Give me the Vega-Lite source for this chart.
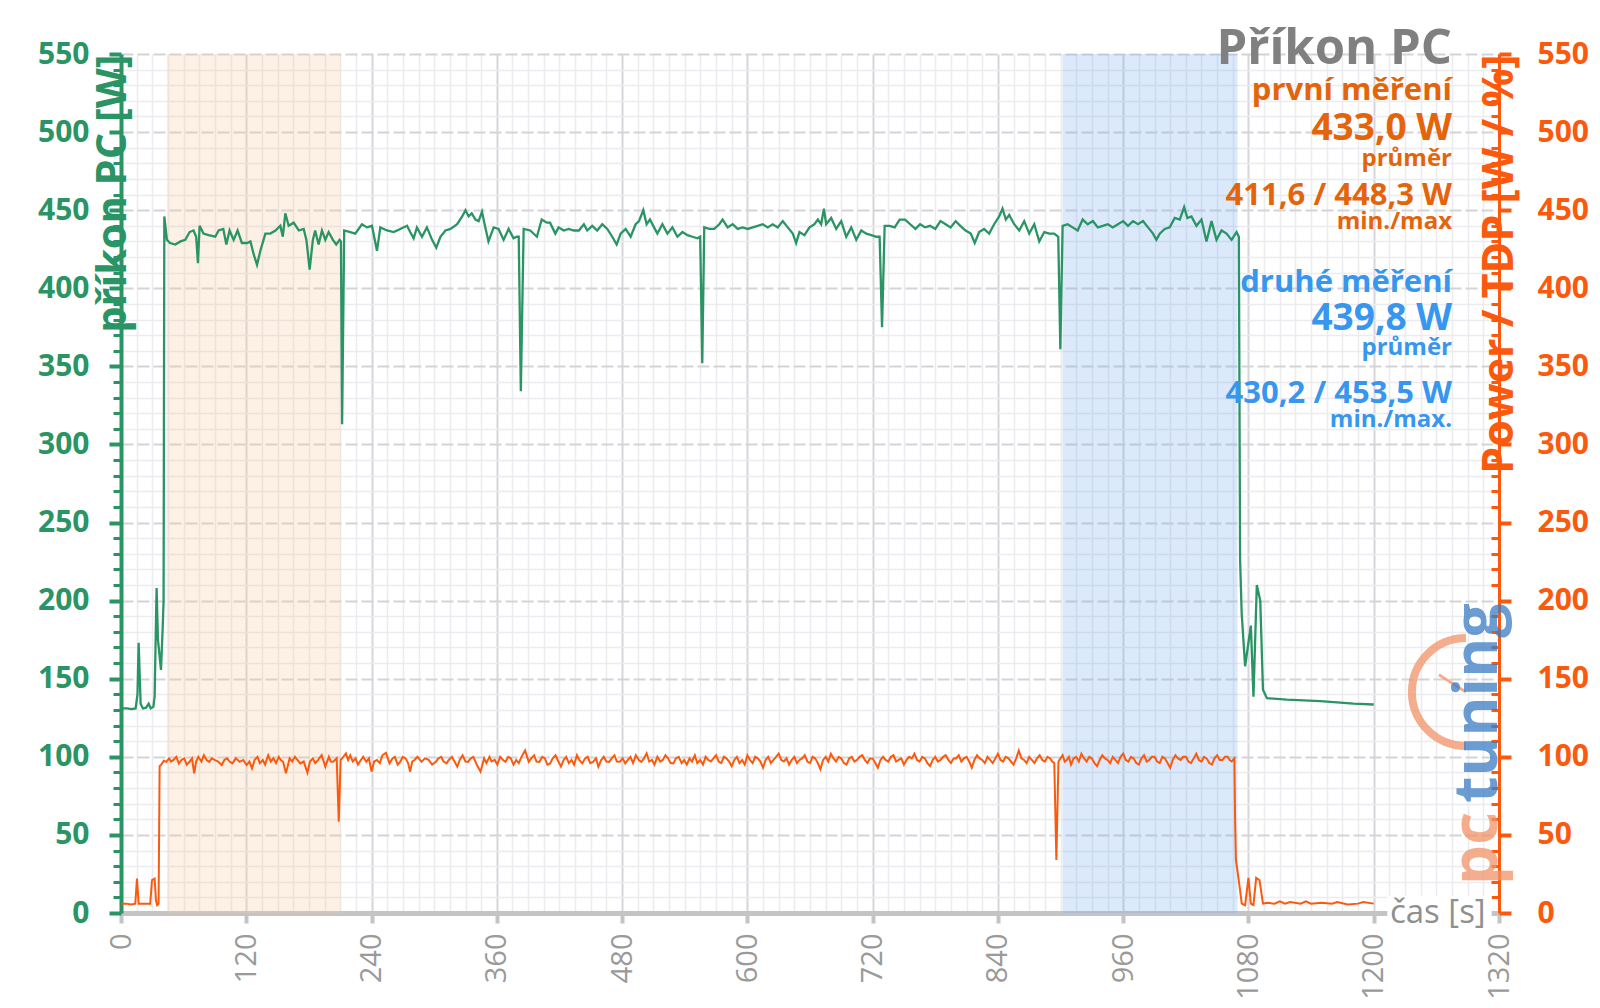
{
"$schema": "https://vega.github.io/schema/vega-lite/v6.json",
"width": 1378, "height": 859,
"autosize": {"type": "none"},
"padding": {"left": 121, "top": 54, "right": 101, "bottom": 95},
"background": "white",
"config": {"view": {"stroke": null}, "font": "Open Sans", "axis": {"labelFont": "Open Sans", "titleFont": "Open Sans"}},
"datasets": {
"bands": [{"t": 44, "t2": 210.5, "measurement": "první"}, {"t": 902, "t2": 1069.5, "measurement": "druhé"}],
"power": [
{"t":1,"w":131},{"t":6,"w":131},{"t":10,"w":130.5},{"t":14,"w":131},{"t":15.8,"w":140},{"t":16.9,"w":173},{"t":18.8,"w":134},{"t":21,"w":131},{"t":24,"w":131.5},{"t":26.5,"w":134},{"t":28.5,"w":131},{"t":31,"w":132},{"t":32.2,"w":138.6},{"t":34.1,"w":208},{"t":35.4,"w":175},{"t":38.3,"w":155.6},{"t":39.9,"w":182},{"t":40.8,"w":200},{"t":41.5,"w":446},
{"t":44,"w":431},{"t":47,"w":429},{"t":52,"w":428},{"t":57,"w":430},{"t":61.6,"w":431},{"t":65.7,"w":436},{"t":69.5,"w":437},{"t":72,"w":433},{"t":73.7,"w":416},{"t":75.3,"w":440},{"t":79,"w":435},{"t":83.9,"w":434},{"t":90.3,"w":433},{"t":93.5,"w":437},{"t":98,"w":438},{"t":100.9,"w":428},{"t":104,"w":437},{"t":107.9,"w":431},{"t":111.7,"w":437},{"t":115.8,"w":429},{"t":120.7,"w":429},{"t":124,"w":430},{"t":127,"w":422},{"t":130.3,"w":415},{"t":133.5,"w":424},{"t":138.3,"w":435},{"t":143,"w":435},{"t":148,"w":437},{"t":152.6,"w":440},{"t":155,"w":433},{"t":157.4,"w":448},{"t":160.6,"w":440},{"t":165.4,"w":442},{"t":170.3,"w":437},{"t":175,"w":438},{"t":177.6,"w":431},{"t":180.7,"w":412},{"t":183.8,"w":431},{"t":186,"w":437},{"t":189.3,"w":428},{"t":192.5,"w":437},{"t":195.7,"w":431},{"t":198.9,"w":436},{"t":203,"w":431},{"t":206.2,"w":428},{"t":209.4,"w":431},{"t":210.7,"w":430},{"t":211.8,"w":313},
{"t":213.8,"w":437},{"t":219.6,"w":436},{"t":224.4,"w":435},{"t":230.8,"w":441},{"t":235.6,"w":439},{"t":240.4,"w":440},{"t":245.2,"w":424},{"t":248.4,"w":439},{"t":254.8,"w":437},{"t":261.2,"w":436},{"t":267.5,"w":438},{"t":274,"w":440},{"t":277,"w":436},{"t":280.3,"w":432},{"t":283.5,"w":439},{"t":288.3,"w":433},{"t":293,"w":439},{"t":298,"w":431},{"t":302,"w":426},{"t":306,"w":433},{"t":310.8,"w":437},{"t":315.6,"w":438},{"t":322,"w":441},{"t":326.8,"w":446},{"t":330,"w":450},{"t":333,"w":446},{"t":336,"w":448},{"t":339.5,"w":444},{"t":342.6,"w":443},{"t":345.8,"w":449},{"t":348.3,"w":441},{"t":352,"w":430},{"t":357,"w":439},{"t":361.7,"w":438},{"t":366.5,"w":431},{"t":371.3,"w":438},{"t":376,"w":432},{"t":379.2,"w":433},{"t":381,"w":433},{"t":383,"w":334},{"t":385.7,"w":438},{"t":392,"w":437},{"t":398.4,"w":433},{"t":403,"w":444},{"t":408,"w":442},{"t":411,"w":442},{"t":416,"w":435},{"t":419.2,"w":439},{"t":424,"w":437},{"t":428.9,"w":438},{"t":433.8,"w":437},{"t":438.6,"w":437},{"t":443.4,"w":441},{"t":446.6,"w":437},{"t":451.4,"w":440},{"t":456.2,"w":437},{"t":461,"w":441},{"t":465.8,"w":438},{"t":470.6,"w":433},{"t":474.8,"w":428},{"t":478.6,"w":435},{"t":483.4,"w":438},{"t":488.2,"w":433},{"t":493,"w":441},{"t":496.2,"w":443},{"t":500.3,"w":450},{"t":503.5,"w":441},{"t":506.7,"w":444},{"t":510.6,"w":439},{"t":513.8,"w":435},{"t":518.6,"w":441},{"t":523.4,"w":435},{"t":528.2,"w":439},{"t":533,"w":433},{"t":537.8,"w":436},{"t":542.6,"w":434},{"t":547.4,"w":433},{"t":552.2,"w":432},{"t":554.8,"w":433},{"t":556.8,"w":352},{"t":558.7,"w":439},{"t":563.5,"w":438},{"t":568.3,"w":438},{"t":573.1,"w":441},{"t":576.3,"w":444},{"t":581.1,"w":439},{"t":585.9,"w":441},{"t":590.7,"w":438},{"t":595.5,"w":439},{"t":600.3,"w":438},{"t":605.1,"w":439},{"t":609.9,"w":440},{"t":614.7,"w":441},{"t":619.5,"w":439},{"t":624.3,"w":441},{"t":629.1,"w":439},{"t":633.9,"w":443},{"t":638.7,"w":439},{"t":643.5,"w":435},{"t":646.7,"w":429},{"t":649.9,"w":436},{"t":654.7,"w":434},{"t":659.5,"w":439},{"t":664.3,"w":441},{"t":667.5,"w":444},{"t":670.7,"w":441},{"t":673.3,"w":451},{"t":675.5,"w":441},{"t":680.3,"w":445},{"t":685.1,"w":438},{"t":689.9,"w":443},{"t":694.7,"w":433},{"t":699.5,"w":439},{"t":704.3,"w":431},{"t":709.1,"w":437},{"t":713.9,"w":435},{"t":718.7,"w":434},{"t":723.5,"w":433},{"t":726.7,"w":433},{"t":729,"w":375},{"t":731.5,"w":440},{"t":736.3,"w":440},{"t":741.1,"w":439},{"t":745.9,"w":444},{"t":751,"w":444},{"t":756,"w":441},{"t":761,"w":438},{"t":765.5,"w":441},{"t":770.3,"w":439},{"t":775,"w":440},{"t":780,"w":438},{"t":785,"w":443},{"t":789.9,"w":441},{"t":794.7,"w":439},{"t":799.5,"w":443},{"t":804,"w":440},{"t":809,"w":437},{"t":814,"w":435},{"t":817.8,"w":429},{"t":822,"w":436},{"t":826.8,"w":438},{"t":831.6,"w":435},{"t":836.4,"w":441},{"t":841.2,"w":446},{"t":844.4,"w":451},{"t":847.6,"w":444},{"t":850.8,"w":447},{"t":855.6,"w":441},{"t":860.4,"w":437},{"t":865.2,"w":443},{"t":870,"w":435},{"t":874.8,"w":441},{"t":879.6,"w":430},{"t":884.4,"w":436},{"t":889.2,"w":435},{"t":894,"w":435},{"t":897.8,"w":433},{"t":899.8,"w":361},{"t":902,"w":440},{"t":906.8,"w":441},{"t":911.6,"w":439},{"t":916.4,"w":437},{"t":921.2,"w":444},{"t":926,"w":441},{"t":931,"w":443},{"t":935.7,"w":439},{"t":940.5,"w":440},{"t":945.3,"w":441},{"t":950,"w":439},{"t":955,"w":441},{"t":960,"w":443},{"t":964.6,"w":440},{"t":969.4,"w":443},{"t":974.2,"w":441},{"t":979,"w":443},{"t":983.8,"w":439},{"t":988.6,"w":435},{"t":991.8,"w":431},{"t":995,"w":435},{"t":999.8,"w":438},{"t":1004.6,"w":439},{"t":1009.4,"w":445},{"t":1014.2,"w":444},{"t":1018.4,"w":452},{"t":1021.5,"w":445},{"t":1025.4,"w":446},{"t":1030.2,"w":440},{"t":1035,"w":444},{"t":1039.8,"w":430},{"t":1044.6,"w":443},{"t":1049.4,"w":431},{"t":1054.2,"w":437},{"t":1059,"w":435},{"t":1063.8,"w":431},{"t":1068.6,"w":436},{"t":1070.8,"w":433},{"t":1072,"w":226},{"t":1073.5,"w":192},{"t":1076.8,"w":158},{"t":1082.3,"w":184},{"t":1084.8,"w":138.5},{"t":1088,"w":210},{"t":1091.3,"w":200},{"t":1093.9,"w":143},{"t":1097.7,"w":137.5},{"t":1116.8,"w":136.6},{"t":1148.8,"w":135.6},{"t":1180.7,"w":134},{"t":1200,"w":133.5}
],
"tdp": [
{"t":1,"pct":6},{"t":5,"pct":6},{"t":10,"pct":5.5},{"t":13.7,"pct":6},{"t":15.3,"pct":22},{"t":16.9,"pct":6},{"t":22,"pct":6},{"t":28,"pct":6},{"t":29.7,"pct":21},{"t":32.2,"pct":22},{"t":33.5,"pct":8},{"t":34.7,"pct":5},{"t":36,"pct":6},{"t":37,"pct":94},{"t":38.5,"pct":95},{"t":41,"pct":97.5},{"t":43.4,"pct":96.8},{"t":46,"pct":99},{"t":48,"pct":97},{"t":50.3,"pct":98},{"t":53,"pct":100},{"t":55.4,"pct":95.8},{"t":58,"pct":98},{"t":60.5,"pct":99},{"t":63,"pct":95},{"t":65.7,"pct":96.8},{"t":68,"pct":99},{"t":70.1,"pct":89.4},{"t":72,"pct":97},{"t":74.2,"pct":100},{"t":77,"pct":97},{"t":79.4,"pct":101},{"t":82,"pct":98},{"t":84.5,"pct":96.8},{"t":87,"pct":99},{"t":89.6,"pct":98},{"t":93,"pct":97},{"t":96.5,"pct":94.7},{"t":99,"pct":98},{"t":101.6,"pct":99},{"t":104,"pct":97},{"t":106.7,"pct":95.8},{"t":110,"pct":99},{"t":113.6,"pct":96.8},{"t":117,"pct":98},{"t":120.4,"pct":94.7},{"t":123,"pct":97},{"t":125.5,"pct":92.6},{"t":128,"pct":98},{"t":130.7,"pct":100},{"t":133,"pct":96},{"t":135.8,"pct":98},{"t":138,"pct":95},{"t":141,"pct":101},{"t":143.5,"pct":97},{"t":146,"pct":99},{"t":148.5,"pct":96},{"t":151.2,"pct":100},{"t":153,"pct":98},{"t":155.3,"pct":96.8},{"t":158,"pct":89.4},{"t":161.5,"pct":99},{"t":164,"pct":97},{"t":166.6,"pct":100},{"t":169,"pct":98},{"t":171.7,"pct":95.8},{"t":175,"pct":97},{"t":178.6,"pct":89.8},{"t":181,"pct":97},{"t":183.7,"pct":99},{"t":186,"pct":96},{"t":188.8,"pct":98},{"t":192.2,"pct":101},{"t":195.7,"pct":93.7},{"t":199.1,"pct":100},{"t":201,"pct":97},{"t":203.2,"pct":96.8},{"t":206.6,"pct":99},{"t":208.6,"pct":58.5},{"t":210.4,"pct":98},{"t":213,"pct":100},{"t":215.5,"pct":102.2},{"t":217.5,"pct":98},{"t":219.6,"pct":101},{"t":222,"pct":97},{"t":224.7,"pct":99},{"t":227,"pct":95},{"t":229.8,"pct":98},{"t":232,"pct":100},{"t":235,"pct":96.8},{"t":237.5,"pct":99},{"t":240,"pct":90.5},{"t":242.5,"pct":97},{"t":245.2,"pct":98},{"t":248,"pct":96},{"t":250.4,"pct":101},{"t":253.8,"pct":102.6},{"t":257.2,"pct":95.8},{"t":260,"pct":99},{"t":262.3,"pct":100},{"t":265,"pct":95},{"t":267.4,"pct":96.8},{"t":270,"pct":100},{"t":272.6,"pct":99},{"t":275,"pct":96},{"t":277,"pct":90.5},{"t":279,"pct":97},{"t":281.1,"pct":98},{"t":284,"pct":100},{"t":287.9,"pct":96.8},{"t":291,"pct":99},{"t":294.7,"pct":98},{"t":298,"pct":95},{"t":301.6,"pct":96.8},{"t":304,"pct":99},{"t":306.7,"pct":100},{"t":309,"pct":97},{"t":311.8,"pct":95.8},{"t":314,"pct":98},{"t":317,"pct":100},{"t":319.5,"pct":97},{"t":322.1,"pct":93.7},{"t":324.5,"pct":98},{"t":327.2,"pct":101},{"t":330,"pct":97},{"t":332.4,"pct":96.8},{"t":335,"pct":99},{"t":337.5,"pct":100},{"t":341,"pct":94.7},{"t":344.4,"pct":90.5},{"t":347.8,"pct":99},{"t":350,"pct":96},{"t":352.9,"pct":100},{"t":355,"pct":97},{"t":358,"pct":98},{"t":360.5,"pct":95},{"t":363.2,"pct":100},{"t":366,"pct":98},{"t":368.3,"pct":96.8},{"t":371,"pct":100},{"t":373.4,"pct":99},{"t":376,"pct":95},{"t":378.6,"pct":98},{"t":381,"pct":96},{"t":383.7,"pct":100},{"t":387.1,"pct":104},{"t":390.6,"pct":96.8},{"t":393,"pct":99},{"t":395.7,"pct":101},{"t":398,"pct":97},{"t":400.8,"pct":96.8},{"t":403.5,"pct":100},{"t":406,"pct":99},{"t":408.5,"pct":95},{"t":411.1,"pct":95.8},{"t":413.5,"pct":99},{"t":416.2,"pct":101},{"t":419,"pct":97},{"t":421.4,"pct":93.7},{"t":424,"pct":98},{"t":426.5,"pct":100},{"t":429,"pct":96},{"t":431.6,"pct":98},{"t":434,"pct":95},{"t":436.8,"pct":101},{"t":439,"pct":98},{"t":441.9,"pct":95.8},{"t":444.5,"pct":99},{"t":447,"pct":100},{"t":449.5,"pct":96},{"t":452.2,"pct":96.8},{"t":455,"pct":99},{"t":457.3,"pct":93.7},{"t":460,"pct":98},{"t":462.4,"pct":100},{"t":465,"pct":97},{"t":467.6,"pct":96.8},{"t":470,"pct":99},{"t":472.7,"pct":101},{"t":475,"pct":97},{"t":477.8,"pct":96.8},{"t":480.5,"pct":99},{"t":483,"pct":95.8},{"t":485.5,"pct":98},{"t":488.1,"pct":100},{"t":490.5,"pct":96},{"t":493.2,"pct":101},{"t":496,"pct":98},{"t":498.4,"pct":96.8},{"t":501,"pct":99},{"t":503.5,"pct":102.2},{"t":506,"pct":97},{"t":508.6,"pct":98},{"t":511,"pct":95},{"t":513.8,"pct":100},{"t":516.5,"pct":97},{"t":518.9,"pct":98},{"t":521.5,"pct":101},{"t":524,"pct":99},{"t":526.5,"pct":96},{"t":529.2,"pct":95.8},{"t":531.5,"pct":99},{"t":534.3,"pct":100},{"t":537,"pct":96},{"t":539.4,"pct":98},{"t":542,"pct":95},{"t":544.6,"pct":99},{"t":547,"pct":97},{"t":549.7,"pct":101},{"t":552,"pct":96},{"t":554.8,"pct":98},{"t":557.5,"pct":95},{"t":560,"pct":100},
{"t":562.5,"pct":98},{"t":565,"pct":97},{"t":567.5,"pct":99},{"t":570,"pct":101},{"t":572.5,"pct":97},{"t":575,"pct":96},{"t":577.5,"pct":100},{"t":580,"pct":99},{"t":582.5,"pct":97},{"t":585,"pct":94},{"t":587.5,"pct":98},{"t":590,"pct":100},{"t":592.5,"pct":96},{"t":595,"pct":98},{"t":597.5,"pct":95},{"t":600,"pct":101},{"t":602.5,"pct":98},{"t":605,"pct":96},{"t":607.5,"pct":100},{"t":610,"pct":99},{"t":612.5,"pct":97},{"t":615,"pct":93},{"t":617.5,"pct":98},{"t":620,"pct":100},{"t":622.5,"pct":96},{"t":625,"pct":98},{"t":627.5,"pct":100},{"t":630,"pct":102},{"t":632.5,"pct":98},{"t":635,"pct":97},{"t":637.5,"pct":99},{"t":640,"pct":95},{"t":642.5,"pct":98},{"t":645,"pct":100},{"t":647.5,"pct":96},{"t":650,"pct":98},{"t":652.5,"pct":99},{"t":655,"pct":101},{"t":657.5,"pct":97},{"t":660,"pct":96},{"t":662.5,"pct":100},{"t":665,"pct":99},{"t":667.5,"pct":96},{"t":670,"pct":92},{"t":672.5,"pct":98},{"t":675,"pct":100},{"t":677.5,"pct":97},{"t":680,"pct":102},{"t":682.5,"pct":99},{"t":685,"pct":97},{"t":687.5,"pct":100},{"t":690,"pct":99},{"t":692.5,"pct":96},{"t":695,"pct":95},{"t":697.5,"pct":99},{"t":700,"pct":100},{"t":702.5,"pct":97},{"t":705,"pct":98},{"t":707.5,"pct":100},{"t":710,"pct":101},{"t":712.5,"pct":98},{"t":715,"pct":96},{"t":717.5,"pct":99},{"t":720,"pct":99},{"t":722.5,"pct":96},{"t":725,"pct":93},{"t":727.5,"pct":98},{"t":730,"pct":100},{"t":732.5,"pct":98},{"t":735,"pct":97},{"t":737.5,"pct":100},{"t":740,"pct":101},{"t":742.5,"pct":97},{"t":745,"pct":98},{"t":747.5,"pct":99},{"t":750,"pct":95},{"t":752.5,"pct":98},{"t":755,"pct":100},{"t":757.5,"pct":99},{"t":760,"pct":102},{"t":762.5,"pct":98},{"t":765,"pct":97},{"t":767.5,"pct":100},{"t":770,"pct":99},{"t":772.5,"pct":96},{"t":775,"pct":94},{"t":777.5,"pct":98},{"t":780,"pct":100},{"t":782.5,"pct":97},{"t":785,"pct":98},{"t":787.5,"pct":100},{"t":790,"pct":101},{"t":792.5,"pct":98},{"t":795,"pct":96},{"t":797.5,"pct":99},{"t":800,"pct":99},{"t":802.5,"pct":101},{"t":805,"pct":97},{"t":807.5,"pct":99},{"t":810,"pct":100},{"t":812.5,"pct":97},{"t":815,"pct":93},{"t":817.5,"pct":98},{"t":820,"pct":101},{"t":822.5,"pct":99},{"t":825,"pct":98},{"t":827.5,"pct":96},{"t":830,"pct":100},{"t":832.5,"pct":98},{"t":835,"pct":96},{"t":837.5,"pct":99},{"t":840,"pct":102},{"t":842.5,"pct":98},{"t":845,"pct":97},{"t":847.5,"pct":100},{"t":850,"pct":99},{"t":852.5,"pct":97},{"t":855,"pct":95},{"t":857.5,"pct":99},{"t":860,"pct":104},{"t":862.5,"pct":99},{"t":865,"pct":98},{"t":867.5,"pct":96},{"t":870,"pct":100},{"t":872.5,"pct":98},{"t":875,"pct":96},{"t":877.5,"pct":99},{"t":880,"pct":101},{"t":882.5,"pct":98},{"t":885,"pct":97},{"t":887.5,"pct":100},{"t":890,"pct":99},{"t":892,"pct":97},{"t":894,"pct":96},{"t":896,"pct":34},{"t":898,"pct":97},{"t":900,"pct":99},{"t":902,"pct":101},{"t":904,"pct":97},{"t":906,"pct":98},{"t":908,"pct":100},{"t":910,"pct":95},{"t":912.5,"pct":99},{"t":915,"pct":100},{"t":917.5,"pct":97},{"t":920,"pct":102},{"t":922.5,"pct":99},{"t":925,"pct":97},{"t":927.5,"pct":100},{"t":930,"pct":99},{"t":932.5,"pct":96},{"t":935,"pct":94},{"t":937.5,"pct":98},{"t":940,"pct":101},{"t":942.5,"pct":99},{"t":945,"pct":98},{"t":947.5,"pct":96},{"t":950,"pct":100},{"t":952.5,"pct":98},{"t":955,"pct":96},{"t":957.5,"pct":100},{"t":960,"pct":102},{"t":962.5,"pct":98},{"t":965,"pct":97},{"t":967.5,"pct":100},{"t":970,"pct":99},{"t":972.5,"pct":96},{"t":975,"pct":95},{"t":977.5,"pct":99},{"t":980,"pct":101},{"t":982.5,"pct":97},{"t":985,"pct":98},{"t":987.5,"pct":100},{"t":990,"pct":100},{"t":992.5,"pct":97},{"t":995,"pct":96},{"t":997.5,"pct":100},{"t":1000,"pct":99},{"t":1002.5,"pct":96},{"t":1005,"pct":93},{"t":1007.5,"pct":98},{"t":1010,"pct":101},{"t":1012.5,"pct":99},{"t":1015,"pct":98},{"t":1017.5,"pct":100},{"t":1020,"pct":100},{"t":1022.5,"pct":97},{"t":1025,"pct":96},{"t":1027.5,"pct":99},{"t":1030,"pct":102},{"t":1032.5,"pct":98},{"t":1035,"pct":97},{"t":1037.5,"pct":100},{"t":1040,"pct":99},{"t":1042.5,"pct":96},{"t":1045,"pct":95},{"t":1047.5,"pct":99},{"t":1050,"pct":101},{"t":1052.5,"pct":98},{"t":1055,"pct":98},{"t":1057.5,"pct":100},{"t":1060,"pct":100},{"t":1062,"pct":98},{"t":1064,"pct":97},{"t":1066.5,"pct":99},{"t":1067.2,"pct":60},{"t":1068,"pct":34},{"t":1070.5,"pct":22},{"t":1073.6,"pct":6},{"t":1076.8,"pct":5},{"t":1080,"pct":22.5},{"t":1082.3,"pct":6},{"t":1084.8,"pct":5},{"t":1087.4,"pct":22.5},{"t":1090.6,"pct":21},{"t":1093.9,"pct":6},{"t":1097.7,"pct":6.5},{"t":1105,"pct":6},{"t":1110,"pct":7.5},{"t":1115,"pct":6},{"t":1120,"pct":7},{"t":1130,"pct":6},{"t":1135,"pct":7.5},{"t":1140,"pct":6},{"t":1150,"pct":6.5},{"t":1160,"pct":6},{"t":1165,"pct":7},{"t":1175,"pct":5.5},{"t":1185,"pct":6},{"t":1190,"pct":7},{"t":1200,"pct":6}
],
"notes": [
{"t":1275,"v":543.5,"label":"Příkon PC","series":"title","role":"title"},
{"t":1275,"v":520.5,"label":"první měření","series":"first","role":"header"},
{"t":1275,"v":495,"label":"433,0 W","series":"first","role":"value"},
{"t":1275,"v":478,"label":"průměr","series":"first","role":"note"},
{"t":1275,"v":453.3,"label":"411,6 / 448,3 W","series":"first","role":"range"},
{"t":1275,"v":437.7,"label":"min./max","series":"first","role":"note"},
{"t":1275,"v":397.8,"label":"druhé měření","series":"second","role":"header"},
{"t":1275,"v":373.3,"label":"439,8 W","series":"second","role":"value"},
{"t":1275,"v":357.3,"label":"průměr","series":"second","role":"note"},
{"t":1275,"v":326.4,"label":"430,2 / 453,5 W","series":"second","role":"range"},
{"t":1275,"v":311.4,"label":"min./max.","series":"second","role":"note"}
],
"xtitle": [{"t":1215.5,"v":0,"label":"čas [s]"}],
"xtitle_bg": [{"t":1213,"t2":1313,"v":-11,"v2":11}],
"logo_pc": [{"t":1318,"v":64.7,"label":"pc"}],
"logo_tuning": [{"t":1318,"v":70.4,"label":"tuning"}],
"gauge": [{"t":1288.3,"v":141.5}]
},
"encoding": {
"x": {"field": "t", "type": "quantitative", "title": null,
 "scale": {"domain": [0, 1320], "nice": false, "zero": false},
 "axis": {
  "values": [0,15,30,45,60,75,90,105,120,135,150,165,180,195,210,225,240,255,270,285,300,315,330,345,360,375,390,405,420,435,450,465,480,495,510,525,540,555,570,585,600,615,630,645,660,675,690,705,720,735,750,765,780,795,810,825,840,855,870,885,900,915,930,945,960,975,990,1005,1020,1035,1050,1065,1080,1095,1110,1125,1140,1155,1170,1185,1200,1215,1230,1245,1260,1275,1290,1305,1320],
  "format": "d",
  "labelExpr": "datum.value % 120 === 0 ? datum.label : ''",
  "labelAngle": 270, "labelFontSize": 29, "labelColor": "#9a9a9a", "labelPadding": 10,
  "labelOverlap": false, "labelFlush": false, "labelBound": false,
  "domainColor": "#c4c4c4", "domainWidth": 5,
  "tickColor": "#c4c4c4", "tickWidth": 4, "tickSize": 10,
  "tickOpacity": {"condition": {"test": "datum.value % 120 === 0", "value": 1}, "value": 0},
  "grid": true,
  "gridColor": {"condition": {"test": "datum.value % 120 === 0", "value": "#d6d6dc"}, "value": "#ebebf0"},
  "gridWidth": {"condition": {"test": "datum.value % 120 === 0", "value": 2}, "value": 1.5},
  "title": null
 }
}
},
"layer": [
{"data": {"name": "bands"}, "mark": {"type": "rect", "opacity": 0.28},
 "encoding": {"x2": {"field": "t2"},
  "color": {"field": "measurement", "type": "nominal", "scale": {"domain": ["první", "druhé"], "range": ["#f9c9a0", "#7fb0f0"]}, "legend": null}}},
{"data": {"name": "power"}, "mark": {"type": "line", "color": "#2a9464", "strokeWidth": 2.3},
 "encoding": {"y": {"field": "w", "type": "quantitative", "scale": {"domain": [0, 550], "nice": false},
  "axis": {
   "values": [0,10,20,30,40,50,60,70,80,90,100,110,120,130,140,150,160,170,180,190,200,210,220,230,240,250,260,270,280,290,300,310,320,330,340,350,360,370,380,390,400,410,420,430,440,450,460,470,480,490,500,510,520,530,540,550],
   "labelExpr": "datum.value % 50 === 0 ? datum.label : ''",
   "labelFontSize": 30, "labelFontWeight": "bold", "labelColor": "#2a9464", "labelPadding": 20,
   "labelOverlap": false, "labelFlush": false, "labelBound": false,
   "domainColor": "#2a9464", "domainWidth": 4,
   "tickColor": "#2a9464",
   "tickSize": {"condition": {"test": "datum.value % 50 === 0", "value": 12}, "value": 8},
   "tickWidth": {"condition": {"test": "datum.value % 50 === 0", "value": 4}, "value": 3},
   "grid": true,
   "gridColor": {"condition": {"test": "datum.value % 50 === 0", "value": "#d3d3d8"}, "value": "#ebebf0"},
   "gridDash": {"condition": {"test": "datum.value % 50 === 0", "value": [12, 4]}, "value": []},
   "gridWidth": {"condition": {"test": "datum.value % 50 === 0", "value": 2}, "value": 1.5},
   "title": "příkon PC [W]", "titleFontSize": 41.5, "titleFontWeight": "bold", "titleColor": "#2a9464",
   "titleAngle": 270, "titleAlign": "right", "titleBaseline": "alphabetic", "titleX": 4, "titleY": 0
  }}}},
{"data": {"name": "tdp"}, "mark": {"type": "line", "color": "#fb5a0e", "strokeWidth": 2},
 "encoding": {"y": {"field": "pct", "type": "quantitative", "scale": {"domain": [0, 550], "nice": false},
  "axis": {
   "orient": "right",
   "values": [0,10,20,30,40,50,60,70,80,90,100,110,120,130,140,150,160,170,180,190,200,210,220,230,240,250,260,270,280,290,300,310,320,330,340,350,360,370,380,390,400,410,420,430,440,450,460,470,480,490,500,510,520,530,540,550],
   "labelExpr": "datum.value % 50 === 0 ? datum.label : ''",
   "labelFontSize": 30, "labelFontWeight": "bold", "labelColor": "#fb5a0e", "labelPadding": 26,
   "labelOverlap": false, "labelFlush": false, "labelBound": false,
   "domainColor": "#fb5a0e", "domainWidth": 3,
   "tickColor": "#fb5a0e",
   "tickSize": {"condition": {"test": "datum.value % 50 === 0", "value": 12}, "value": -8},
   "tickWidth": {"condition": {"test": "datum.value % 50 === 0", "value": 4}, "value": 3},
   "grid": false,
   "title": "Power / TDP [W / %]", "titleFontSize": 43, "titleFontWeight": "bold", "titleColor": "#fb5a0e",
   "titleAngle": 270, "titleAlign": "right", "titleBaseline": "alphabetic", "titleX": 13, "titleY": 0
  }}}},
{"data": {"name": "gauge"}, "mark": {"type": "point", "shape": "M0,-1A1,1,0,0,0,0,1", "size": 11664, "filled": false, "color": "#f29468", "strokeWidth": 8, "opacity": 0.75},
 "encoding": {"y": {"field": "v", "type": "quantitative", "scale": {"domain": [0, 550], "nice": false}, "axis": null}}},
{"data": {"name": "gauge"}, "mark": {"type": "point", "shape": "M-0.5,-0.32L0,0", "size": 11664, "filled": false, "color": "#f29468", "strokeWidth": 3, "opacity": 0.75},
 "encoding": {"y": {"field": "v", "type": "quantitative", "scale": {"domain": [0, 550], "nice": false}, "axis": null}}},
{"data": {"name": "logo_pc"}, "mark": {"type": "text", "angle": 270, "align": "right", "baseline": "alphabetic", "font": "Open Sans", "fontWeight": "bold", "fontSize": 64, "color": "#f29468", "opacity": 0.75},
 "encoding": {"y": {"field": "v", "type": "quantitative", "scale": {"domain": [0, 550], "nice": false}, "axis": null}, "text": {"field": "label"}}},
{"data": {"name": "logo_tuning"}, "mark": {"type": "text", "angle": 270, "align": "left", "baseline": "alphabetic", "font": "Open Sans", "fontWeight": "bold", "fontSize": 61, "color": "#3a7cc4", "opacity": 0.75},
 "encoding": {"y": {"field": "v", "type": "quantitative", "scale": {"domain": [0, 550], "nice": false}, "axis": null}, "text": {"field": "label"}}},
{"data": {"name": "notes"}, "mark": {"type": "text", "align": "right", "baseline": "alphabetic", "font": "Open Sans", "fontWeight": "bold"},
 "encoding": {"y": {"field": "v", "type": "quantitative", "scale": {"domain": [0, 550], "nice": false}, "axis": null}, "text": {"field": "label"},
  "size": {"field": "role", "type": "nominal", "scale": {"type": "ordinal", "domain": ["title", "header", "value", "range", "note"], "range": [49, 31, 37, 31, 24]}, "legend": null},
  "color": {"field": "series", "type": "nominal", "scale": {"domain": ["title", "first", "second"], "range": ["#808080", "#e4640c", "#3796ee"]}, "legend": null}}},
{"data": {"name": "xtitle_bg"}, "mark": {"type": "rect", "color": "white"},
 "encoding": {"x2": {"field": "t2"}, "y": {"field": "v", "type": "quantitative", "scale": {"domain": [0, 550], "nice": false}, "axis": null}, "y2": {"field": "v2"}}},
{"data": {"name": "xtitle"}, "mark": {"type": "text", "align": "left", "baseline": "middle", "font": "Open Sans", "fontSize": 33, "color": "#8f8f8f"},
 "encoding": {"y": {"field": "v", "type": "quantitative", "scale": {"domain": [0, 550], "nice": false}, "axis": null}, "text": {"field": "label"}}}
],
"resolve": {"scale": {"y": "independent", "color": "independent", "size": "independent"}}
}
